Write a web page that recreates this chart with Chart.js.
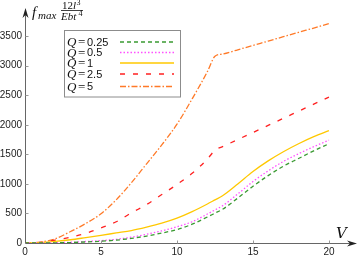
<!DOCTYPE html>
<html>
<head>
<meta charset="utf-8">
<script src="https://cdn.jsdelivr.net/npm/chart.js@4/dist/chart.umd.min.js"></script>
<style>
html, body { margin: 0; padding: 0; background: #fff; }
#wrap { width: 359px; height: 256px; }
</style>
</head>
<body>
<div id="wrap"><canvas id="grafico" width="359" height="256"></canvas></div>
<script>
// V values (12.5 added for the kink of the Q=5 and Q=2.5 curves)
const V = [0, 1, 2, 3, 4, 5, 6, 7, 8, 9, 10, 11, 12, 12.5, 13, 14, 15, 16, 17, 18, 19, 20];

const fQ025 = [0, 1, 3, 8, 18, 30, 48, 78, 118, 168, 228, 318, 440, 505, 570, 760, 960, 1140, 1300, 1430, 1560, 1680];
const fQ05  = [0, 2, 5, 12, 25, 40, 63, 98, 148, 205, 275, 360, 490, 560, 630, 830, 1040, 1220, 1380, 1510, 1630, 1740];
const fQ1   = [0, 8, 28, 55, 92, 130, 170, 210, 268, 335, 420, 530, 660, 730, 800, 1000, 1210, 1390, 1545, 1680, 1800, 1900];
const fQ25  = [0, 10, 50, 100, 165, 255, 360, 510, 650, 820, 990, 1180, 1420, 1570, 1630, 1750, 1870, 1990, 2110, 2230, 2350, 2470];
const fQ5   = [0, 15, 73, 195, 330, 495, 730, 1020, 1340, 1660, 2010, 2440, 2900, 3160, 3197, 3270, 3344, 3417, 3491, 3565, 3638, 3712];

const qLabels = ['0.25', '0.5', '1', '2.5', '5'];
const qSeries = [fQ025, fQ05, fQ1, fQ25, fQ5];
const qColors = ['#3a9a32', '#ff50ff', '#ffc800', '#ff2020', '#ff7a28'];
const qDashes = [[4, 3], [1.5, 2], [], [5, 8], [6, 2, 1.5, 2]];

const xTicks = [0, 5, 10, 15, 20];
const yTicks = [0, 500, 1000, 1500, 2000, 2500, 3000, 3500];

let ctx = document.getElementById('grafico');

let datasets = qSeries.map((serie, i) => ({
    label: 'Q = ' + qLabels[i],
    data: V.map((v, k) => ({x: v, y: serie[k]})),
    borderColor: qColors[i],
    backgroundColor: qColors[i],
    borderDash: qDashes[i],
    borderWidth: 1.3,
    pointRadius: 0,
    cubicInterpolationMode: 'monotone',
    fill: false
}));

// axes with arrows, inner tick marks, axis titles and legend box
const ejes = {
    id: 'ejes',
    afterDraw(chart) {
        const c = chart.ctx;
        const a = chart.chartArea;
        const sx = chart.scales.x;
        const sy = chart.scales.y;
        const x0 = Math.round(sx.getPixelForValue(0)) + 0.5;
        const y0 = Math.round(sy.getPixelForValue(0)) + 0.5;
        c.save();
        c.strokeStyle = '#666';
        c.lineWidth = 1;
        c.beginPath();
        c.moveTo(x0, y0); c.lineTo(x0, a.top + 4);
        c.moveTo(x0, y0); c.lineTo(a.right - 4, y0);
        c.stroke();
        // tick marks inside
        c.strokeStyle = '#999';
        c.beginPath();
        xTicks.slice(1).forEach(v => {
            const px = Math.round(sx.getPixelForValue(v)) + 0.5;
            c.moveTo(px, y0); c.lineTo(px, y0 - 3);
        });
        yTicks.slice(1).forEach(v => {
            const py = Math.round(sy.getPixelForValue(v)) + 0.5;
            c.moveTo(x0, py); c.lineTo(x0 + 3, py);
        });
        c.stroke();
        // arrow heads
        c.fillStyle = '#222';
        c.beginPath();
        c.moveTo(x0, a.top - 1);
        c.lineTo(x0 - 3, a.top + 9);
        c.lineTo(x0, a.top + 6);
        c.lineTo(x0 + 3, a.top + 9);
        c.closePath();
        c.fill();
        c.beginPath();
        c.moveTo(a.right + 1, y0);
        c.lineTo(a.right - 9, y0 - 3);
        c.lineTo(a.right - 6, y0);
        c.lineTo(a.right - 9, y0 + 3);
        c.closePath();
        c.fill();

        // axis titles
        c.fillStyle = '#111';
        c.textBaseline = 'alphabetic';
        c.textAlign = 'left';
        c.font = 'italic 15px "DejaVu Serif"';
        c.fillText('V', 336, 238);
        c.font = 'italic 15px "Liberation Serif"';
        c.fillText('f', 32, 17);
        c.font = 'italic 11px "Liberation Serif"';
        c.fillText('max', 38, 19);
        c.font = '11px "Liberation Serif"';
        c.fillText('12', 62, 8.5);
        c.font = 'italic 11px "Liberation Serif"';
        c.fillText('l', 73, 8.5);
        c.font = '8px "Liberation Serif"';
        c.fillText('3', 76.5, 4.5);
        c.fillRect(61, 10, 22, 0.8);
        c.font = 'italic 11px "Liberation Serif"';
        c.fillText('Ebt', 61, 19.5);
        c.font = '8px "Liberation Serif"';
        c.fillText('4', 78.5, 15.5);

        // legend
        c.strokeStyle = '#8c8c8c';
        c.lineWidth = 1;
        c.fillStyle = '#fff';
        c.fillRect(64.5, 30.5, 116, 66.5);
        c.strokeRect(64.5, 30.5, 116, 66.5);
        const filas = [41.5, 52, 62.5, 73.5, 86];
        chart.data.datasets.forEach((ds, i) => {
            const yy = filas[i];
            c.fillStyle = '#111';
            c.font = 'italic 13px "Liberation Serif"';
            c.fillText('Q', 67, yy + 4.5);
            c.font = '13px "Liberation Serif"';
            c.fillText('=', 78, yy + 4.5);
            c.font = '11px "Liberation Sans"';
            c.fillText(qLabels[i], 87, yy + 4);
            c.strokeStyle = ds.borderColor;
            c.lineWidth = 1.3;
            c.setLineDash(ds.borderDash);
            c.beginPath();
            c.moveTo(120, yy + 0.5);
            c.lineTo(174, yy + 0.5);
            c.stroke();
            c.setLineDash([]);
        });
        c.restore();
    }
};

const options = {
    animation: false,
    responsive: false,
    layout: { padding: { top: 5, right: 3, left: 0, bottom: 0 } },
    scales: {
        x: {
            type: 'linear',
            min: 0,
            max: 21.78,
            grid: { display: false, drawTicks: false },
            border: { display: false },
            afterBuildTicks: (scale) => { scale.ticks = xTicks.map(v => ({value: v})); },
            afterFit: (scale) => { scale.height = 13; },
            ticks: {
                padding: 3,
                color: '#222',
                font: { family: 'Liberation Sans', size: 10 },
                maxRotation: 0,
                autoSkip: false,
                callback: (value) => String(value)
            }
        },
        y: {
            type: 'linear',
            min: 0,
            max: 3960,
            grid: { display: false, drawTicks: false },
            border: { display: false },
            afterBuildTicks: (scale) => { scale.ticks = yTicks.map(v => ({value: v})); },
            afterFit: (scale) => { scale.width = 25; },
            ticks: {
                padding: 3,
                color: '#222',
                font: { family: 'Liberation Sans', size: 10 },
                autoSkip: false,
                callback: (value) => String(value)
            }
        }
    },
    plugins: {
        legend: { display: false },
        title: { display: false },
        tooltip: { enabled: false }
    }
};

new Chart(ctx.getContext('2d'), {
    type: 'line',
    data: { datasets: datasets },
    options: options,
    plugins: [ejes]
});
</script>
</body>
</html>
